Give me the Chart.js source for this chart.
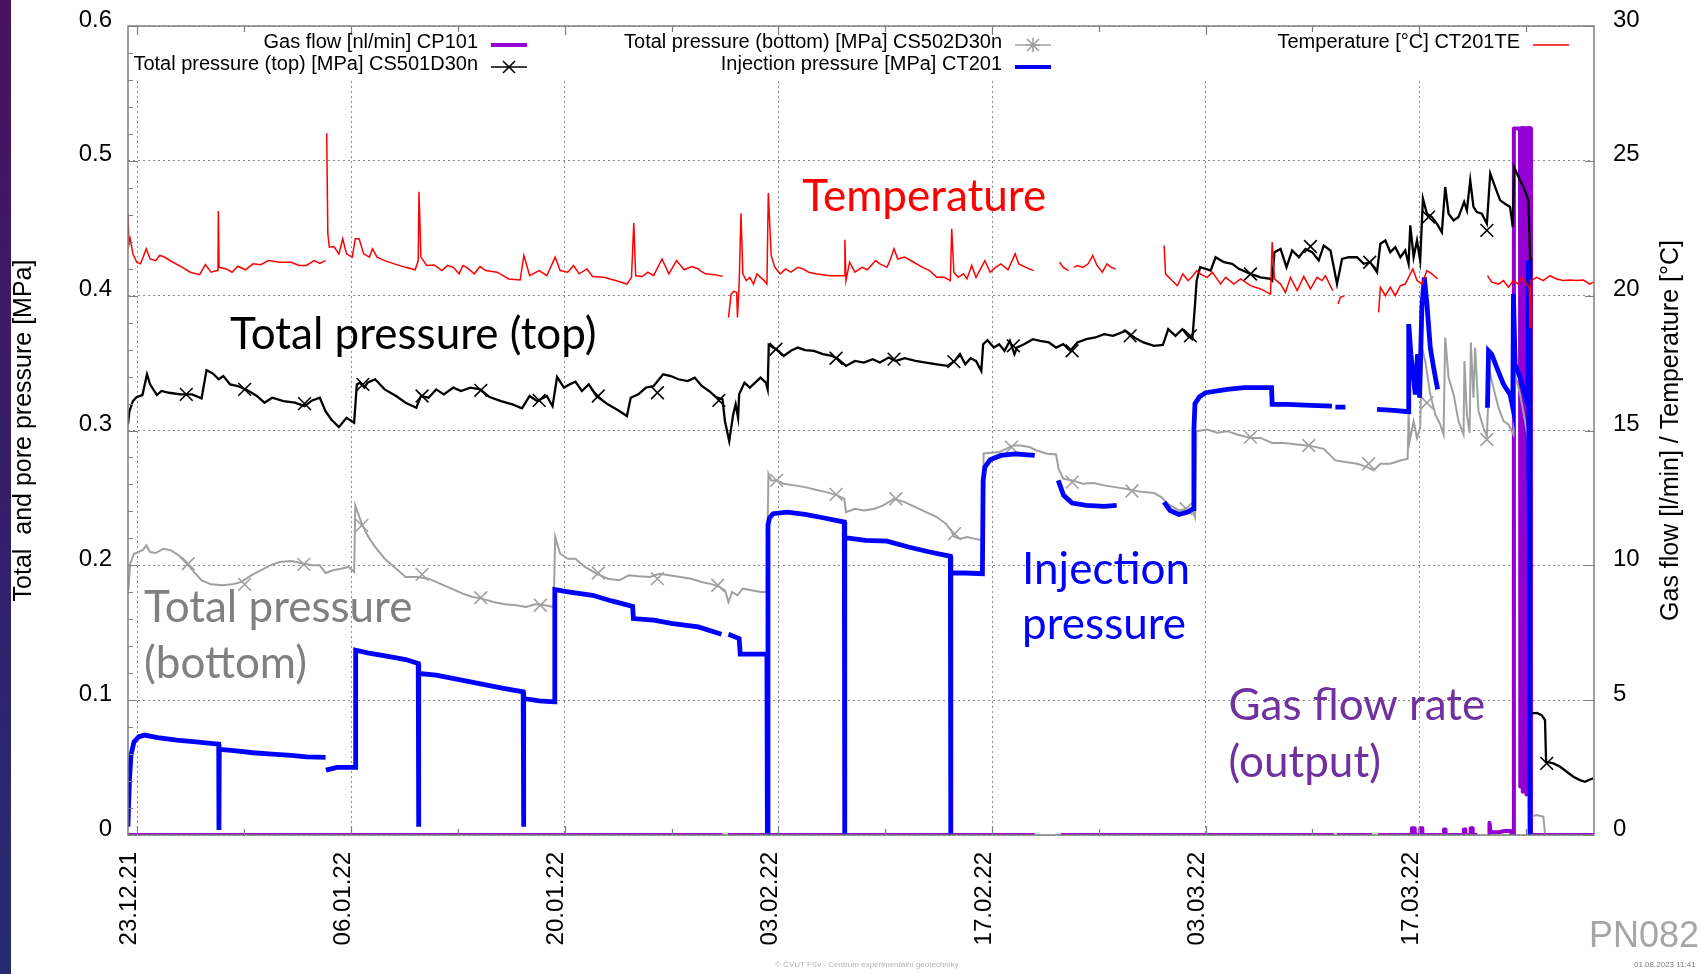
<!DOCTYPE html>
<html>
<head>
<meta charset="utf-8">
<title>PN082</title>
<script src="https://cdn.jsdelivr.net/npm/chart.js@4.4.1/dist/chart.umd.min.js"></script>
<style>
  html, body { margin: 0; padding: 0; background: #fff; overflow: hidden; }
  #wrap { position: relative; width: 1701px; height: 974px; }
  #strip { position: absolute; left: 0; top: 0; width: 11px; height: 974px;
           background: linear-gradient(#4a1262, #33206a 55%, #262d6e); }
  #chart { position: absolute; left: 0; top: 0; }
  .foot { position: absolute; font-family: 'Liberation Sans', Arial, sans-serif; white-space: nowrap; }
  #pn { left: 1589px; top: 917px; font-size: 36px; line-height: 36px; color: #a6a6a6; }
  #copy { left: 775px; top: 960px; font-size: 8px; line-height: 10px; color: #b4b4b4; }
  #stamp { left: 1634px; top: 960px; font-size: 8px; line-height: 10px; color: #7a7a7a; }
</style>
</head>
<body>
<div id="wrap">
  <div id="strip"></div>
  <canvas id="chart" width="1701" height="974"></canvas>
  <div class="foot" id="pn">PN082</div>
  <div class="foot" id="copy">© ČVUT FSv - Centrum experimentální geotechniky</div>
  <div class="foot" id="stamp">01.08.2023 11:41</div>
</div>
<script>
// x values are days since 23.12.2021
const xTickDays = [0, 14, 28, 42, 56, 70, 84];
const xMinorDays = [7, 21, 35, 49, 63, 77, 91];

// Temperature [°C] CT201TE (right axis)
const tempDays = [-0.675, -0.625, -0.55, -0.475, -0.3, -0.05, 0.2, 0.375, 0.575, 0.825, 1.2, 1.45, 1.7, 2.325, 2.95, 3.45, 4.075, 4.45, 4.825, 5.2, 5.275, 5.3, 5.35, 5.825, 6.2, 6.575, 7.075, 7.575, 8.075, 8.575, 9.325, 10.075, 10.575, 11.075, 11.575, 11.95, 12.325, 12.36,
  12.4, 12.475, 12.575, 12.875, 13.2, 13.45, 13.7, 14.075, 14.275, 14.525, 14.825, 15.2, 15.4, 15.7, 16.2, 16.825, 17.575, 18.2, 18.4, 18.45, 18.575, 18.95, 19.45, 19.95, 20.325, 20.7, 21.075, 21.325, 21.575, 22.075, 22.45, 22.825, 23.575, 24.325, 25.075, 25.325, 25.7, 26.325, 26.825, 27.375, 27.7, 28.2, 28.575, 28.95, 29.45, 29.825, 30.575, 31.325, 32.075, 32.375, 32.525, 32.65, 33.075, 33.45, 33.825, 34.375, 34.825, 35.325, 35.825, 36.325, 36.775, 36.87, 37.22, 37.8, 38.34, 38.5,
  38.73, 38.9, 39.08, 39.27, 39.32, 39.43, 39.55, 39.67, 39.9, 40.13, 40.37, 40.6, 40.83, 41.07, 41.25, 41.34, 41.53, 41.77, 42.12, 42.47, 42.82, 43.28, 43.63, 43.98, 44.45, 45.38, 46.32, 46.36, 46.43, 46.67, 47.02, 47.48, 47.83, 48.37, 48.65, 49.12, 49.35, 49.58, 49.82, 50.28, 50.87, 51.45, 51.92, 52.38, 52.85, 53.27, 53.36, 53.5, 53.78, 54.13, 54.36, 54.67, 54.95, 55.3, 55.53, 55.88, 56.23, 56.58, 57.05, 57.52, 57.75, 58.22, 58.73, 59.5,
  60.43, 60.67, 61.02, 61.2, 61.37, 61.6, 61.95, 62.3, 62.6, 62.88, 63.23, 63.53, 63.82, 64.1, 65.5,
  67.28, 67.37, 67.8, 68.15, 68.5, 68.85, 69.08, 69.43, 69.67, 70.11, 70.44, 70.98, 71.31, 71.85, 72.29, 72.94, 73.6, 74.25, 74.36, 74.51, 74.91, 75.23, 75.56, 76.0, 76.43, 76.87, 77.3, 77.63, 77.85, 78.33, 78.5,
  78.68, 78.83, 79.11, 80.0, 81.34, 81.45, 81.78, 82.1, 82.43, 82.76, 83.08, 83.3, 83.58, 83.85, 84.17, 84.5, 84.83, 85.2, 86.5,
  88.47, 88.75, 89.19, 89.52, 89.84, 90.17, 90.5, 90.71, 91.04, 91.22, 91.26, 91.32, 91.69, 92.13, 92.56, 93.0, 93.44, 93.87, 94.31, 94.75, 95.18, 95.4];
const tempC = [23.66, 23.04, 21.92, 22.11, 21.55, 21.24, 21.18, 21.43, 21.74, 21.36, 21.30, 21.49, 21.45, 21.24, 21.05, 20.87, 20.78, 21.15, 20.87, 20.93, 20.93, 23.14, 21.05, 20.99, 20.87, 21.09, 20.96, 21.18, 21.15, 21.30, 21.24, 21.24, 21.12, 21.12, 21.30, 21.20, 21.30, null,
  26.02, 22.30, 21.80, 21.82, 21.55, 22.11, 21.55, 21.43, 22.11, 22.11, 21.55, 21.43, 21.74, 21.43, 21.30, 21.18, 21.05, 20.96, 21.30, 23.85, 21.43, 21.12, 21.14, 20.93, 21.12, 21.05, 20.81, 21.12, 21.05, 20.81, 21.08, 20.93, 20.87, 20.62, 20.58, 21.49, 20.74, 20.93, 20.74, 21.43, 20.93, 20.87, 21.12, 20.81, 20.99, 20.71, 20.68, 20.56, 20.43, 20.68, 22.69, 20.74, 20.71, 20.87, 20.74, 21.36, 20.81, 21.30, 20.96, 21.08, 20.99, 20.93, 20.81, 20.78, 20.72, null,
  19.19, 20.06, 20.16, 20.12, 19.19, 20.43, 23.06, 20.81, 20.56, 20.68, 20.43, 20.81, 20.68, 20.56, 20.43, 23.81, 21.49, 21.05, 20.81, 20.99, 20.87, 21.05, 20.99, 20.87, 20.81, 20.74, 20.74, 22.07, 20.56, 21.24, 20.87, 21.05, 20.96, 21.30, 21.18, 21.05, 21.36, 21.74, 21.36, 21.43, 21.24, 21.05, 20.93, 20.68, 20.68, 20.56, 22.48, 20.87, 20.68, 20.81, 20.62, 21.12, 20.68, 21.05, 21.30, 20.87, 21.05, 21.18, 20.96, 21.55, 21.18, 21.05, 20.93, null,
  21.24, 21.05, 20.93, null, 21.05, 21.12, 21.05, 21.18, 21.49, 21.12, 20.87, 21.18, 21.05, 20.99, null,
  21.86, 20.81, 20.56, 20.37, 20.81, 20.56, 20.68, 20.93, 20.80, 20.68, 20.87, 20.43, 20.68, 20.43, 20.62, 20.37, 20.25, 20.06, 21.99, 20.62, 20.43, 20.12, 20.68, 20.19, 20.71, 20.25, 20.68, 20.56, 20.74, 20.19, null,
  19.69, 19.94, 20.0, null, 19.38, 20.31, 20.0, 20.31, 20.0, 20.37, 20.43, 20.68, 20.99, 20.56, 20.43, 20.93, 20.81, 20.62, null,
  20.74, 20.50, 20.43, 20.56, 20.31, 20.56, 20.43, 20.68, 20.43, 20.31, 18.82, 20.56, 20.68, 20.56, 20.74, 20.62, 20.56, 20.58, 20.56, 20.58, 20.43, 20.50];

// Total pressure (top) [MPa] CS501D30n
const topDays = [-0.625, -0.525, -0.3, -0.05, 0.325, 0.625, 0.825, 1.275, 1.575, 2.075, 2.825, 3.575, 4.2, 4.525, 4.95, 5.325, 5.625, 6.075, 6.575, 7.2, 7.825, 8.325, 8.825, 9.575, 10.325, 10.95, 11.45, 11.95, 12.325, 12.7, 13.2, 13.7, 14.2, 14.375, 14.575, 14.875, 15.075, 15.575, 16.2, 16.95, 17.575, 18.275, 18.575, 19.075, 19.575, 20.075, 20.7, 21.2, 21.825, 22.45, 23.075, 23.825, 24.575, 25.2, 25.7, 26.2, 26.825, 27.2, 27.5, 27.95, 28.325, 28.7, 29.125, 29.575, 30.075, 30.825, 31.575, 32.075, 32.325, 32.825, 33.325, 33.825, 34.45, 34.95, 35.45, 36.05, 36.52, 36.98, 37.45, 37.92, 38.34, 38.5, 38.78, 39.04, 39.2, 39.36, 39.43, 39.78, 40.13, 40.48, 40.83, 41.18, 41.3, 41.37, 41.65, 42.0, 42.35, 42.82, 43.28, 43.75, 44.33, 44.92, 45.5, 45.85, 46.43, 47.02, 47.6, 48.18, 48.65, 49.23, 49.7, 50.28, 50.98, 51.68, 52.38, 53.08, 53.55, 53.9, 54.25, 54.6, 54.95, 55.3, 55.42, 55.7, 56.12, 56.47, 56.82, 57.17, 57.47, 57.63, 58.1, 58.68, 59.15, 59.73, 60.2, 60.67, 61.13, 61.6, 62.18, 62.77, 63.35, 63.93, 64.75, 65.33, 65.92, 66.62, 67.2, 67.55, 68.02, 68.48, 68.83, 69.13, 69.29, 69.41, 69.64, 70.0, 70.33, 70.65, 71.2, 71.74, 72.18, 72.94, 73.6, 74.25, 74.36, 74.51, 74.91, 75.3, 75.67, 76.11, 76.54, 76.98, 77.41, 77.74, 78.18, 78.4, 78.61, 78.94, 79.38, 79.92, 80.36, 80.79, 81.23, 81.45, 81.78, 82.1, 82.43, 82.76, 83.08, 83.3, 83.41, 83.63, 83.85, 84.06, 84.24, 84.5, 84.83, 85.16, 85.48, 85.7, 85.92, 86.25, 86.57, 86.94, 87.12, 87.34, 87.55, 87.77, 88.1, 88.43, 88.65, 88.97, 89.3, 89.62, 89.95, 90.13, 90.21, 90.5, 90.82, 91.15, 91.26, 91.32, 91.7, 92.02, 92.24, 92.31, 92.79, 93.23, 93.66, 94.1, 94.53, 94.86, 95.18, 95.4];
const topMPa = [0.3045, 0.3144, 0.3218, 0.3248, 0.3263, 0.3417, 0.3342, 0.3263, 0.3293, 0.3280, 0.3268, 0.3268, 0.3238, 0.3447, 0.3422, 0.3380, 0.3404, 0.3342, 0.3330, 0.3298, 0.3256, 0.3206, 0.3243, 0.3218, 0.3206, 0.3181, 0.3223, 0.3243, 0.3144, 0.3082, 0.3025, 0.3094, 0.3057, 0.3342, 0.3355, 0.3318, 0.3355, 0.3380, 0.3305, 0.3256, 0.3206, 0.3169, 0.3256, 0.3243, 0.3305, 0.3268, 0.3318, 0.3293, 0.3318, 0.3305, 0.3248, 0.3218, 0.3194, 0.3164, 0.3256, 0.3218, 0.3256, 0.3181, 0.3397, 0.3318, 0.3342, 0.3362, 0.3293, 0.3342, 0.3256, 0.3194, 0.3144, 0.3107, 0.3243, 0.3268, 0.3318, 0.3330, 0.3417, 0.3404, 0.3380, 0.3367, 0.3392, 0.3330, 0.3293, 0.3248, 0.3231, 0.3069, 0.2921, 0.3119, 0.3194, 0.3094, 0.3268, 0.3355, 0.3318, 0.3355, 0.3392, 0.3355, 0.3305, 0.3635, 0.3615, 0.3591, 0.3553, 0.3591, 0.3615, 0.3596, 0.3591, 0.3566, 0.3553, 0.3536, 0.3479, 0.3516, 0.3504, 0.3529, 0.3504, 0.3541, 0.3516, 0.3536, 0.3516, 0.3504, 0.3491, 0.3479, 0.3516, 0.3566, 0.3491, 0.3536, 0.3516, 0.3442, 0.3640, 0.3670, 0.3615, 0.3640, 0.3591, 0.3665, 0.3566, 0.3615, 0.3640, 0.3677, 0.3665, 0.3653, 0.3615, 0.3640, 0.3591, 0.3653, 0.3677, 0.3690, 0.3715, 0.3702, 0.3739, 0.3690, 0.3653, 0.3628, 0.3635, 0.3752, 0.3702, 0.3752, 0.3702, 0.3677, 0.3913, 0.4112, 0.4211, 0.4199, 0.4186, 0.4285, 0.4248, 0.4236, 0.4199, 0.4161, 0.4136, 0.4124, 0.4112, 0.4323, 0.4347, 0.4211, 0.4335, 0.4285, 0.4347, 0.4323, 0.4261, 0.4372, 0.4335, 0.4211, 0.4087, 0.4273, 0.4285, 0.4285, 0.4236, 0.4248, 0.4174, 0.4385, 0.4409, 0.4323, 0.4360, 0.4285, 0.4335, 0.4236, 0.4521, 0.4285, 0.4409, 0.4261, 0.4720, 0.4608, 0.4583, 0.4533, 0.4471, 0.4806, 0.4608, 0.4558, 0.4583, 0.4695, 0.4633, 0.4856, 0.4658, 0.4620, 0.4608, 0.4533, 0.4906, 0.4806, 0.4707, 0.4682, 0.4658, 0.4509, 0.4955, 0.4881, 0.4806, 0.4707, 0.4285, 0.0901, 0.0906, 0.0889, 0.0852, 0.0543, 0.0531, 0.0506, 0.0469, 0.0432, 0.0407, 0.0395, 0.0412, 0.0420];
const topMarkDays = [3.2, 7.025, 10.95, 14.775, 18.65, 22.5, 26.325, 30.2, 34.075, 38.1, 41.84, 45.78, 49.58, 53.5, 57.4, 61.25, 65.05, 69.0, 72.94, 76.87, 80.75, 84.61, 88.43, 92.35];
const topMarkMPa = [0.3268, 0.3305, 0.3199, 0.3342, 0.3256, 0.3298, 0.3223, 0.3256, 0.3280, 0.3223, 0.3603, 0.3536, 0.3529, 0.3511, 0.3628, 0.3591, 0.3702, 0.3702, 0.4161, 0.4365, 0.4248, 0.4583, 0.4484, 0.0531];

// Total pressure (bottom) [MPa] CS502D30n
const bottomDays = [-0.6, -0.475, -0.225, 0.075, 0.375, 0.575, 0.825, 1.2, 1.7, 2.2, 2.7, 3.2, 3.7, 4.2, 4.825, 5.575, 6.2, 6.825, 7.45, 8.075, 8.7, 9.325, 10.075, 10.7, 11.45, 11.95, 12.325, 12.825, 13.325, 13.825, 14.2, 14.275, 14.7, 15.075, 15.575, 16.2, 16.825, 17.575, 18.325, 19.075, 19.825, 20.575, 21.325, 21.95, 22.575, 23.325, 24.075, 24.825, 25.45, 26.075, 26.7, 27.275, 27.375, 27.7, 28.2, 28.7, 29.325, 30.075, 30.825, 31.575, 32.2, 32.825, 33.575, 34.2, 34.825, 35.575, 36.28, 36.98, 37.68, 38.15, 38.5, 38.73, 38.97, 39.32, 39.67, 40.25, 40.83, 41.23, 41.35, 41.53, 41.88, 42.35, 43.05, 43.75, 44.45, 45.15, 45.85, 46.32, 46.43, 47.02, 47.6, 48.3, 48.88, 49.58, 50.28, 50.98, 51.68, 52.38, 52.97, 53.32, 53.5, 53.9, 54.37, 54.83, 55.18, 55.4, 55.45, 56.47, 56.93, 57.4, 57.87, 58.45, 58.92, 59.62, 60.2, 60.36, 60.67, 61.25, 61.95, 62.65, 63.35, 64.05, 64.75, 65.22, 65.92, 66.62, 67.08, 67.67, 68.25, 68.72, 69.18, 69.3, 69.4, 70.11, 70.76, 71.42, 72.07, 72.94, 73.6, 74.36, 75.12, 75.99, 76.87, 77.74, 78.5, 79.27, 79.92, 80.58, 81.01, 81.45, 82.1, 82.76, 83.24, 83.3, 83.37, 83.63, 83.85, 84.06, 84.17, 84.39, 84.72, 85.05, 85.37, 85.59, 85.7, 85.92, 86.25, 86.57, 86.9, 86.96, 87.12, 87.3, 87.38, 87.55, 87.66, 87.88, 88.21, 88.43, 88.6, 88.86, 89.19, 89.52, 89.84, 90.17, 90.28, 90.61, 90.93, 91.15, 91.3, 91.69, 92.13, 92.24];
const bottomMPa = [0.1815, 0.2012, 0.2086, 0.2099, 0.2116, 0.2148, 0.2099, 0.2091, 0.2123, 0.2111, 0.2074, 0.2017, 0.1951, 0.1889, 0.1859, 0.1852, 0.1859, 0.1877, 0.1926, 0.1963, 0.2000, 0.2025, 0.2032, 0.2017, 0.2000, 0.2000, 0.1943, 0.1963, 0.1975, 0.1988, 0.1951, 0.2444, 0.2309, 0.2222, 0.2136, 0.2049, 0.1988, 0.1914, 0.1914, 0.1901, 0.1864, 0.1827, 0.1790, 0.1765, 0.1753, 0.1728, 0.1711, 0.1704, 0.1691, 0.1711, 0.1704, 0.1691, 0.2210, 0.2086, 0.2049, 0.2049, 0.1988, 0.1938, 0.1901, 0.1889, 0.1926, 0.1919, 0.1914, 0.1938, 0.1926, 0.1914, 0.1901, 0.1877, 0.1859, 0.1840, 0.1815, 0.1728, 0.1802, 0.1778, 0.1827, 0.1815, 0.1802, 0.1802, 0.2679, 0.2630, 0.2630, 0.2605, 0.2593, 0.2580, 0.2560, 0.2543, 0.2519, 0.2494, 0.2395, 0.2420, 0.2407, 0.2420, 0.2444, 0.2494, 0.2469, 0.2432, 0.2395, 0.2358, 0.2309, 0.2259, 0.2215, 0.2198, 0.2210, 0.2198, 0.2190, 0.2190, 0.2830, 0.2840, 0.2864, 0.2889, 0.2889, 0.2877, 0.2852, 0.2827, 0.2822, 0.2716, 0.2642, 0.2630, 0.2605, 0.2610, 0.2593, 0.2580, 0.2568, 0.2556, 0.2543, 0.2536, 0.2506, 0.2444, 0.2407, 0.2420, 0.2395, 0.2358, 0.2995, 0.3007, 0.2983, 0.2995, 0.2970, 0.2945, 0.2945, 0.2908, 0.2908, 0.2896, 0.2886, 0.2864, 0.2778, 0.2765, 0.2753, 0.2728, 0.2704, 0.2753, 0.2753, 0.2778, 0.2790, 0.3119, 0.2921, 0.3069, 0.2945, 0.3020, 0.3615, 0.3516, 0.3268, 0.3119, 0.3045, 0.2970, 0.3690, 0.3392, 0.3268, 0.3069, 0.2970, 0.3516, 0.3119, 0.2983, 0.3653, 0.3243, 0.3615, 0.3144, 0.3020, 0.2958, 0.3442, 0.3318, 0.3169, 0.3069, 0.3045, 0.2970, 0.3417, 0.3268, 0.3069, 0.2921, 0.0136, 0.0148, 0.0136, 0.0012];
const bottomMarkDays = [3.325, 7.025, 10.9, 14.7, 18.65, 22.5, 26.4, 30.2, 34.075, 38.03, 41.88, 45.78, 49.7, 53.55, 57.28, 61.25, 65.17, 68.72, 72.94, 76.76, 80.68, 84.5, 88.43];
const bottomMarkMPa = [0.2012, 0.1859, 0.2007, 0.2296, 0.1933, 0.1760, 0.1704, 0.1943, 0.1901, 0.1852, 0.2630, 0.2526, 0.2494, 0.2235, 0.2877, 0.2617, 0.2551, 0.2420, 0.2951, 0.2889, 0.2753, 0.3206, 0.2933];

// Injection pressure [MPa] CT201
const injDays = [-0.675, -0.625, -0.525, -0.425, -0.225, 0.075, 0.45, 1.325, 2.575, 3.825, 5.325, 5.34, 5.36, 6.325, 7.575, 8.825, 10.075, 11.075, 12.325, 12.34,
  12.35, 13.075, 14.275, 14.3, 15.075, 16.325, 17.575, 18.4, 18.42, 18.44, 19.575, 21.075, 22.575, 24.075, 25.275, 25.3, 25.32, 26.325, 27.325, 27.35, 28.325, 29.825, 31.075, 32.45, 32.5, 33.825, 35.075, 36.75, 38.27, 38.5,
  38.73, 39.43, 39.5, 41.25, 41.28, 41.32, 41.42, 41.65, 42.58, 43.75, 44.92, 46.32, 46.34, 46.36, 47.72, 49.12, 50.52, 51.92, 53.27, 53.29, 53.31, 54.25, 55.37, 55.42, 55.53, 55.88, 56.58, 57.52, 58.8, 59.5,
  60.34, 60.69, 61.25, 62.18, 63.35, 64.17, 65.5,
  67.27, 67.67, 68.25, 68.83, 69.18, 69.23, 69.3, 69.6, 70.0, 71.42, 72.51, 74.32, 74.36, 75.34, 76.87, 78.28, 78.4,
  78.5, 79.16, 80.0,
  81.23, 82.32, 83.3, 83.31, 83.45, 83.74, 83.89, 84.02, 84.17, 84.33, 84.5, 84.72, 84.94, 85.2, 86.5,
  88.47, 88.54, 88.75, 89.08, 89.52, 89.95, 90.13, 90.17, 90.28, 90.61, 91.04, 91.12, 91.15, 91.26, 91.37];
const injMPa = [0.0642, 0.0062, 0.0407, 0.0593, 0.0691, 0.0728, 0.0741, 0.0723, 0.0704, 0.0691, 0.0674, 0.0037, 0.0635, 0.0625, 0.0610, 0.0600, 0.0590, 0.0580, 0.0575, null,
  0.0481, 0.0501, 0.0501, 0.1370, 0.1351, 0.1326, 0.1301, 0.1272, 0.0062, 0.1198, 0.1185, 0.1153, 0.1119, 0.1086, 0.1062, 0.0062, 0.1012, 0.0995, 0.0988, 0.1820, 0.1802, 0.1778, 0.1736, 0.1696, 0.1605, 0.1593, 0.1568, 0.1543, 0.1489, null,
  0.1489, 0.1457, 0.1341, 0.1341, 0, 0.2300, 0.2353, 0.2383, 0.2395, 0.2378, 0.2353, 0.2321, 0, 0.2205, 0.2185, 0.2180, 0.2136, 0.2099, 0.2067, 0, 0.1943, 0.1943, 0.1938, 0.2630, 0.2728, 0.2783, 0.2815, 0.2827, 0.2815, null,
  0.2630, 0.2519, 0.2462, 0.2444, 0.2437, 0.2444, null,
  0.2469, 0.2407, 0.2378, 0.2395, 0.2420, 0.3000, 0.3200, 0.3250, 0.3280, 0.3305, 0.3318, 0.3318, 0.3194, 0.3194, 0.3186, 0.3181, null,
  0.3174, 0.3174, null,
  0.3156, 0.3149, 0.3139, 0.3789, 0.3566, 0.3268, 0.3566, 0.3243, 0.3913, 0.4136, 0.3938, 0.3615, 0.3466, 0.3305, null,
  0.3169, 0.3591, 0.3566, 0.3466, 0.3342, 0.3268, 0.3169, 0.4012, 0.3491, 0.3392, 0.3218, 0.3200, 0.4261, 0, 0];

// Gas flow [nl/min] CP101 (right axis)
const flowDays = [-0.62, 38.35, 38.4, 38.68, 58.8, 59.5, 60.5, 78.4, 78.5, 78.6, 80.9, 81.1, 81.3, 83.5, 83.52, 83.7, 83.72, 84.05, 84.07, 84.18, 84.2, 85.6, 85.62, 85.7, 85.72, 86.9, 86.92, 87.0, 87.02, 87.35, 87.37, 87.48, 87.5, 87.8, 88.1,
  88.5, 88.58, 88.6, 88.68, 89.2, 89.6, 90.0, 90.05, 90.18, 90.2, 90.6, 90.62, 90.66, 90.7, 90.74, 90.78, 90.82, 90.86, 90.9, 90.94, 90.98, 91.02, 91.06, 91.1, 91.14, 91.18, 91.22, 91.3, 91.32, 95.45];
const flowLmin = [0, 0, null, 0, 0, null, 0, 0, null, 0, 0, null, 0, 0, 0.25, 0.25, 0, 0, 0.25, 0.25, 0, 0, 0.2, 0.2, 0, 0, 0.2, 0.2, 0, 0, 0.25, 0.25, 0, 0, null,
  0, 0, 0.45, 0.1, 0.1, 0.15, 0.15, 0, 0, 26.2, 26.2, 1.8, 26.2, 2.5, 26.2, 1.6, 26.2, 3.0, 26.2, 2.0, 26.2, 1.5, 26.2, 2.2, 26.2, 1.8, 26.2, 26.2, 0, 0];

// labels placed on the plot: [text, day, MPa at baseline, colour]
const notes = [
  ['Temperature', 43.57, 0.4630, '#ff0000'],
  ['Total pressure (top)', 6.07, 0.3605, '#000000'],
  ['Total pressure', 0.43, 0.1580, '#808080'],
  ['(bottom)', 0.43, 0.1161, '#808080'],
  ['Injection', 57.97, 0.1859, '#0000ff'],
  ['pressure', 57.97, 0.1450, '#0000ff'],
  ['Gas flow rate', 71.5, 0.0852, '#7030a0'],
  ['(output)', 71.5, 0.0432, '#7030a0']
];

const keyItems = [
  { text: 'Gas flow [nl/min] CP101', col: 0, row: 0, color: '#9400d3', width: 4 },
  { text: 'Total pressure (top) [MPa] CS501D30n', col: 0, row: 1, color: '#000000', width: 1.5, mark: 'x' },
  { text: 'Total pressure (bottom) [MPa] CS502D30n', col: 1, row: 0, color: '#a0a0a0', width: 1.5, mark: 'star' },
  { text: 'Injection pressure [MPa] CT201', col: 1, row: 1, color: '#0000ff', width: 4 },
  { text: 'Temperature [°C] CT201TE', col: 2, row: 0, color: '#ff0000', width: 1.5 }
];
const keyTextRight = [478, 1002, 1520];
const keyRowY = [42, 64];
const keyFloor = 0.5615;

const FONT = "'Liberation Sans', Arial, sans-serif";
Chart.defaults.font.family = FONT;
Chart.defaults.color = '#000';

const pts = (xs, ys) => xs.map((x, i) => ({ x: x, y: ys[i] }));

function dayLabel(v) {
  const d = new Date(2021, 11, 23 + v);
  const p = n => String(n).padStart(2, '0');
  return p(d.getDate()) + '.' + p(d.getMonth() + 1) + '.' + p(d.getFullYear() % 100);
}

function drawMark(ctx, kind, cx, cy, r) {
  ctx.beginPath();
  ctx.moveTo(cx - r, cy - r); ctx.lineTo(cx + r, cy + r);
  ctx.moveTo(cx - r, cy + r); ctx.lineTo(cx + r, cy - r);
  if (kind === 'star') {
    ctx.moveTo(cx, cy - r * 1.2); ctx.lineTo(cx, cy + r * 1.2);
    ctx.moveTo(cx - r * 1.2, cy); ctx.lineTo(cx + r * 1.2, cy);
  }
  ctx.stroke();
}

// keep tick label overflow from pushing the plot frame around
function noPad(s) { s.paddingTop = 0; s.paddingBottom = 0; s.paddingLeft = 0; s.paddingRight = 0; }

const overlay = {
  id: 'overlay',
  beforeDatasetsDraw(chart) {
    const { ctx, chartArea: a, scales } = chart;
    const keyBottom = scales.y.getPixelForValue(keyFloor);
    ctx.save();
    ctx.fillStyle = '#ffffff';
    ctx.fillRect(a.left + 1, a.top + 1, a.right - a.left - 2, keyBottom - a.top);
    ctx.restore();
  },
  afterDatasetsDraw(chart) {
    const { ctx, chartArea: a, scales } = chart;
    const x = scales.x, y = scales.y, y2 = scales.y2;
    ctx.save();

    // frame
    ctx.strokeStyle = '#7f7f7f';
    ctx.lineWidth = 1.5;
    ctx.strokeRect(a.left, a.top, a.right - a.left, a.bottom - a.top);

    // inward ticks
    ctx.lineWidth = 1.2;
    ctx.beginPath();
    xTickDays.concat(xMinorDays).forEach(d => {
      const px = Math.round(x.getPixelForValue(d)) + 0.5;
      const len = xTickDays.includes(d) ? 9 : 6;
      ctx.moveTo(px, a.bottom); ctx.lineTo(px, a.bottom - len);
      ctx.moveTo(px, a.top); ctx.lineTo(px, a.top + len);
    });
    for (let i = 0; i <= 30; i++) {
      const py = Math.round(y.getPixelForValue(i * 0.02)) + 0.5;
      const len = i % 5 === 0 ? 9 : 5;
      ctx.moveTo(a.left, py); ctx.lineTo(a.left + len, py);
    }
    for (let v = 0; v <= 30; v += 5) {
      const py = Math.round(y2.getPixelForValue(v)) + 0.5;
      ctx.moveTo(a.right, py); ctx.lineTo(a.right - 9, py);
    }
    ctx.stroke();

    // key
    ctx.font = '20px ' + FONT;
    ctx.textAlign = 'right';
    ctx.textBaseline = 'middle';
    keyItems.forEach(k => {
      const tx = keyTextRight[k.col], ty = keyRowY[k.row];
      ctx.fillStyle = '#000';
      ctx.fillText(k.text, tx, ty);
      const sy = ty + 3, s0 = tx + 13, s1 = tx + 49;
      ctx.strokeStyle = k.color;
      ctx.lineWidth = k.width;
      ctx.beginPath(); ctx.moveTo(s0, sy); ctx.lineTo(s1, sy); ctx.stroke();
      if (k.mark) {
        ctx.lineWidth = 1.6;
        drawMark(ctx, k.mark, (s0 + s1) / 2, sy, 6);
      }
    });

    // labels on the plot
    ctx.textAlign = 'left';
    ctx.textBaseline = 'alphabetic';
    ctx.font = '44px Lato, "Open Sans", sans-serif';
    notes.forEach(n => {
      ctx.fillStyle = n[3];
      ctx.fillText(n[0], x.getPixelForValue(n[1]), y.getPixelForValue(n[2]));
    });

    // axis titles
    ctx.fillStyle = '#000';
    ctx.font = '25px ' + FONT;
    ctx.textAlign = 'center';
    ctx.textBaseline = 'middle';
    const cy = (a.top + a.bottom) / 2;
    ctx.save();
    ctx.translate(24, cy); ctx.rotate(-Math.PI / 2);
    ctx.fillText('Total  and pore pressure [MPa]', 0, 0);
    ctx.restore();
    ctx.save();
    ctx.translate(1671, cy); ctx.rotate(-Math.PI / 2);
    ctx.fillText('Gas flow [l/min] / Temperature [°C]', 0, 0);
    ctx.restore();

    ctx.restore();
  }
};

new Chart(document.getElementById('chart'), {
  type: 'line',
  data: {
    datasets: [
      { label: 'Gas flow [nl/min] CP101', data: pts(flowDays, flowLmin), yAxisID: 'y2',
        borderColor: '#9400d3', borderWidth: 4, borderJoinStyle: 'round', pointRadius: 0, order: 6 },
      { label: 'Total pressure (top) [MPa] CS501D30n', data: pts(topDays, topMPa), yAxisID: 'y',
        borderColor: '#000000', borderWidth: 2.3, pointRadius: 0, order: 5 },
      { label: 'top marks', data: pts(topMarkDays, topMarkMPa), yAxisID: 'y', showLine: false,
        pointStyle: 'crossRot', pointRadius: 9, pointBorderWidth: 1.6, borderColor: '#000000', order: 5 },
      { label: 'Total pressure (bottom) [MPa] CS502D30n', data: pts(bottomDays, bottomMPa), yAxisID: 'y',
        borderColor: '#a0a0a0', borderWidth: 2, pointRadius: 0, order: 4 },
      { label: 'bottom marks', data: pts(bottomMarkDays, bottomMarkMPa), yAxisID: 'y', showLine: false,
        pointStyle: 'crossRot', pointRadius: 9, pointBorderWidth: 1.6, borderColor: '#a0a0a0', order: 4 },
      { label: 'Injection pressure [MPa] CT201', data: pts(injDays, injMPa), yAxisID: 'y',
        borderColor: '#0000ff', borderWidth: 4.8, pointRadius: 0, order: 3 },
      { label: 'Temperature [°C] CT201TE', data: pts(tempDays, tempC), yAxisID: 'y2',
        borderColor: '#ff0000', borderWidth: 1.5, pointRadius: 0, order: 2 }
    ]
  },
  options: {
    responsive: false,
    animation: false,
    events: [],
    layout: { padding: { top: 26, left: 0, right: 0, bottom: 0 } },
    plugins: { legend: { display: false }, tooltip: { enabled: false } },
    scales: {
      x: {
        type: 'linear', min: -0.62, max: 95.45,
        afterBuildTicks: s => { s.ticks = xTickDays.map(v => ({ value: v })); },
        afterFit: s => { s.height = 139; noPad(s); },
        ticks: { callback: v => dayLabel(v), autoSkip: false, minRotation: 90, maxRotation: 90,
                 padding: 17, labelOffset: -8, font: { size: 24 }, color: '#000' },
        grid: { color: '#8a8a8a', lineWidth: 1, drawTicks: false },
        border: { display: false, dash: [2, 3] }
      },
      y: {
        position: 'left', min: 0, max: 0.6,
        afterFit: s => { s.width = 128; noPad(s); },
        ticks: { stepSize: 0.1, padding: 16, labelOffset: -6, font: { size: 24 }, color: '#000' },
        grid: { color: '#8a8a8a', lineWidth: 1, drawTicks: false },
        border: { display: false, dash: [2, 3] }
      },
      y2: {
        position: 'right', min: 0, max: 30,
        afterFit: s => { s.width = 107; noPad(s); },
        ticks: { stepSize: 5, padding: 19, labelOffset: -6, font: { size: 24 }, color: '#000' },
        grid: { display: false, drawTicks: false },
        border: { display: false }
      }
    }
  },
  plugins: [overlay]
});
</script>
</body>
</html>
